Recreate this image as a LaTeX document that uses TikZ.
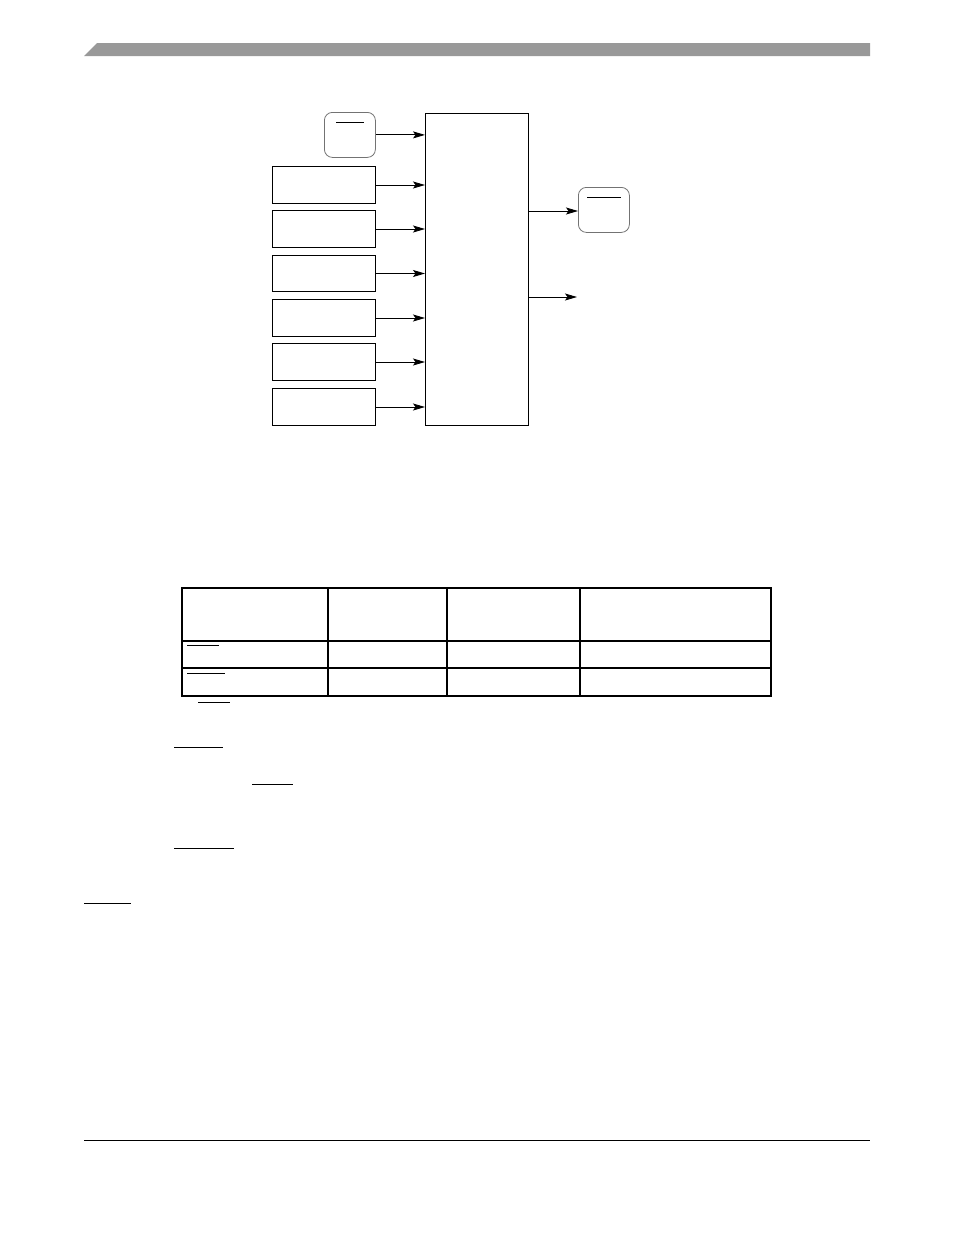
\documentclass[tikz,border=0pt]{standalone}
\usetikzlibrary{arrows.meta}
\begin{document}
\begin{tikzpicture}[x=1pt,y=-1pt,
  box/.style={draw=black,line width=1pt},
  rbox/.style={draw=black!55,line width=0.8pt,rounded corners=8pt},
  arr/.style={line width=0.9pt,-{Stealth[length=12pt,width=7pt,inset=2.5pt]}},
  bar/.style={line width=1pt},
  tbl/.style={line width=1.1pt}]
\useasboundingbox (0,0) rectangle (954,1235);
% header bar
\fill[black!40] (84,56) -- (97,43) -- (870,43) -- (870,56) -- cycle;
% footer line
\draw[line width=1pt] (84,1140) -- (870,1140);
% main block
\node[box,minimum width=103pt,minimum height=312pt,anchor=north west,inner sep=0pt] (main) at (425,113) {};
% inputs
\node[rbox,minimum width=51pt,minimum height=45pt,anchor=north west,inner sep=0pt] (in0) at (324,112) {};
\draw[bar] (336,122) -- (364,122);
\foreach \i/\t/\b in {1/166/203,2/210/247,3/255/291,4/299/336,5/343/380,6/388/425}{
  \node[box,minimum width=103pt,minimum height={\b-\t},anchor=north west,inner sep=0pt] (in\i) at (272,\t) {};
}
\draw[arr] (in0.east) -- (in0.east -| main.west);
\foreach \i in {1,...,6}{
  \draw[arr] (in\i.east) -- (in\i.east -| main.west);
}
% outputs
\node[rbox,minimum width=51pt,minimum height=45pt,anchor=north west,inner sep=0pt] (out1) at (578,187) {};
\draw[bar] (587,197) -- (621,197);
\coordinate (o1) at (528,211);
\coordinate (o2) at (528,297);
\coordinate (e2) at (577,297);
\draw[arr] (o1) -- (o1 -| out1.west);
\draw[arr] (o2) -- (e2);
% table
\draw[tbl] (182,588) rectangle (771,696);
\draw[tbl] (182,641) -- (771,641);
\draw[tbl] (182,668) -- (771,668);
\draw[tbl] (328,588) -- (328,696);
\draw[tbl] (447,588) -- (447,696);
\draw[tbl] (580,588) -- (580,696);
% overlines
\draw[bar] (187,645) -- (219,645);
\draw[bar] (187,673) -- (225,673);
\draw[bar] (198,702) -- (230,702);
\draw[bar] (174,747) -- (223,747);
\draw[bar] (252,784) -- (293,784);
\draw[bar] (174,848) -- (234,848);
\draw[bar] (84,903) -- (131,903);
\end{tikzpicture}
\end{document}
